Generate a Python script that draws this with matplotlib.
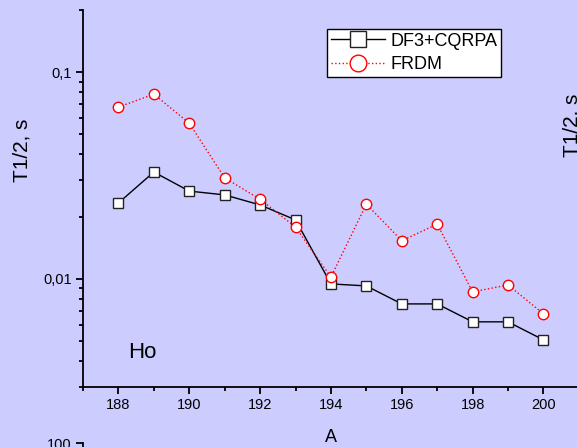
import matplotlib
matplotlib.use("Agg")
import matplotlib.pyplot as plt
from matplotlib.ticker import FixedLocator, FuncFormatter, LogLocator, NullFormatter

mass_number = [188, 189, 190, 191, 192, 193, 194, 195, 196, 197, 198, 199, 200]
t_half_df3 = [0.0233, 0.0329, 0.0266, 0.0255, 0.0228, 0.0193, 0.00946,
              0.00925, 0.00757, 0.00757, 0.0062, 0.0062, 0.00507]
t_half_frdm = [0.0678, 0.0783, 0.0567, 0.0308, 0.0243, 0.0178, 0.0102,
               0.0230, 0.0153, 0.0184, 0.00866, 0.00935, 0.00678]

bg = "#ccccff"
plt.rcParams["font.family"] = ["Liberation Sans", "DejaVu Sans"]

W, H = 577, 447
fig = plt.figure(figsize=(W / 100, H / 100), dpi=100, facecolor=bg)


def px_box(x0, y0, x1, y1):
    # pixel box (top-left origin) -> figure fraction rect
    return [x0 / W, 1 - y1 / H, (x1 - x0) / W, (y1 - y0) / H]


ax = fig.add_axes(px_box(83, 10, 600, 387))
ax.set_facecolor(bg)
ax.patch.set_alpha(0)

ax.plot(mass_number, t_half_df3, color="black", lw=1.0, marker="s", ms=7,
        mfc="white", mec="#222222", mew=1.0, label="DF3+CQRPA", zorder=3)
ax.plot(mass_number, t_half_frdm, color="red", lw=1.0, ls=":", marker="o",
        ms=7.5, mfc="white", mec="red", mew=1.0, label="FRDM", zorder=4)

ax.set_yscale("log")
ax.set_ylim(0.003, 0.2)
ax.set_xlim(187, 187 + (600 - 83) / 35.42)

ax.xaxis.set_major_locator(FixedLocator(range(188, 202, 2)))
ax.xaxis.set_minor_locator(FixedLocator(range(187, 202, 2)))
ax.yaxis.set_major_locator(FixedLocator([0.01, 0.1]))
ax.yaxis.set_major_formatter(FuncFormatter(lambda v, p: f"{v:g}".replace(".", ",")))
ax.yaxis.set_minor_locator(LogLocator(base=10, subs=range(2, 10)))
ax.yaxis.set_minor_formatter(NullFormatter())

for side in ("top", "right"):
    ax.spines[side].set_visible(False)
for side in ("left", "bottom"):
    ax.spines[side].set_linewidth(1.3)
ax.tick_params(which="major", length=5, width=1.3, labelsize=10.5, pad=3)
ax.tick_params(which="minor", length=3, width=1.3)

ax.text(188.27, 0.00443, "Ho", fontsize=16, ha="left", va="center")

leg = fig.legend(loc="upper left", bbox_to_anchor=(327 / W, 1 - 29 / H),
                 fontsize=13, markerscale=1.6, frameon=True, fancybox=False,
                 edgecolor="black", facecolor="white", framealpha=1,
                 borderaxespad=0, borderpad=0.2, labelspacing=0.35,
                 handlelength=3.0, handletextpad=0.3)
leg.get_frame().set_linewidth(1.0)

fig.text(22 / W, 1 - 150 / H, "T1/2, s", rotation=90, fontsize=15,
         ha="center", va="center")
fig.text(331 / W, 1 - 438 / H, "A", fontsize=13, ha="center", va="center")
# label of the neighbouring panel, cut by the figure edge
fig.text(563 / W, 1 - 125 / H, "T1/2, s", rotation=90, fontsize=15,
         ha="left", va="center")

# top of the panel below
ax_low = fig.add_axes(px_box(83, 443, 600, 700))
ax_low.patch.set_alpha(0)
ax_low.set_yscale("log")
ax_low.set_ylim(1, 100)
ax_low.yaxis.set_major_locator(FixedLocator([100]))
ax_low.yaxis.set_major_formatter(FuncFormatter(lambda v, p: f"{v:g}"))
ax_low.yaxis.set_minor_locator(FixedLocator([]))
ax_low.set_xticks([])
for side in ("top", "right", "bottom"):
    ax_low.spines[side].set_visible(False)
ax_low.spines["left"].set_linewidth(1.3)
ax_low.tick_params(length=5, width=1.3, labelsize=10.5, pad=3)

fig.savefig("out.png", dpi=100, facecolor=bg)
